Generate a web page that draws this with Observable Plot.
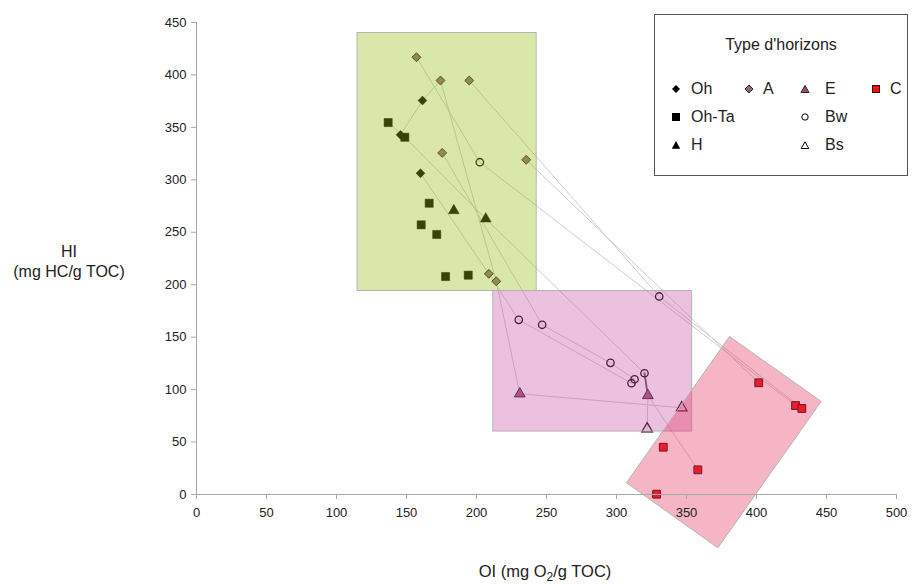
<!DOCTYPE html>
<html><head><meta charset="utf-8">
<script src="https://cdn.jsdelivr.net/npm/d3@7"></script>
<script src="https://cdn.jsdelivr.net/npm/@observablehq/plot@0.6"></script>
<style>
body{margin:0;background:#fff;font-family:"Liberation Sans",Arial,sans-serif;color:#222;}
#wrap{position:relative;width:913px;height:584px;overflow:hidden;}
#wrap svg.plot{position:absolute;left:0;top:0;}
.ylab{position:absolute;left:0;width:138px;text-align:center;font-size:16px;line-height:20px;top:242px;}
.xlab{position:absolute;left:345px;width:400px;text-align:center;font-size:16.5px;top:562px;}
.xlab sub{font-size:12px;vertical-align:-4px;line-height:0;}
#legend{position:absolute;left:654px;top:14px;width:252px;height:160px;border:1.5px solid #555;background:#fff;}
#legend .title{position:absolute;left:0;width:100%;top:21px;text-align:center;font-size:16px;}
#legend .item{position:absolute;font-size:16px;line-height:18px;white-space:nowrap;}
#legend svg{position:absolute;}
</style></head><body><div id="wrap"></div>
<script>
// ---- data (OI, HI) by horizon type ----
const Oh   = [[161.4,375.6],[160.0,306.3],[145.7,342.9]];
const OhTa = [[136.9,354.6],[148.8,340.6],[166.2,277.7],[160.5,257.1],[171.6,247.9],[177.9,207.8],[194.1,209.1]];
const H    = [[183.8,270.7],[206.6,262.8]];
const A    = [[157.1,416.9],[174.3,394.7],[194.8,394.7],[175.5,325.7],[235.5,319.1],[208.8,210.4],[214.1,203.3]];
const E    = [[230.9,96.0],[322.4,94.4]];
const Bw   = [[202.4,316.8],[330.5,188.8],[230.2,166.5],[246.9,161.8],[295.7,125.5],[312.9,109.9],[310.7,106.1],[320.0,115.6]];
const Bs   = [[346.6,82.7],[321.9,62.6]];
const C    = [[401.6,106.5],[427.9,84.8],[432.4,82.0],[333.4,45.1],[358.1,23.5],[328.6,0.3]];

// soil profiles linking horizons
const profiles = [
  [[157.1,416.9],[202.4,316.8],[427.9,84.8]],
  [[194.8,394.7],[330.5,188.8],[432.4,82.0]],
  [[235.5,319.1],[401.6,106.5]],
  [[174.3,394.7],[161.4,375.6],[145.7,342.9]],
  [[136.9,354.6],[148.8,340.6],[206.6,262.8],[320.0,115.6],[322.4,94.4],[321.9,62.6]],
  [[322.4,94.4],[358.1,23.5]],
  [[174.3,394.7],[214.1,203.3],[230.9,96.0],[346.6,82.7]],
  [[160.0,306.3],[208.8,210.4],[230.2,166.5],[310.7,106.1]],
  [[175.5,325.7],[246.9,161.8],[295.7,125.5],[312.9,109.9]]
];
// Bw -> E link drawn heavier in the original
const heavyLink = [[320.0,115.6],[322.4,94.4]];

// domains (OI min, OI max, HI min, HI max)
const organicZone  = [115, 243, 194, 440];
const mixedZone    = [212, 354, 60, 194];
const mineralZone  = [[380.7,150.6],[446.2,88.7],[372.4,-50.8],[307.1,11.2]];

const xTicks = [0,50,100,150,200,250,300,350,400,450,500];
const yTicks = [0,50,100,150,200,250,300,350,400,450];
const legendLabels = ["Oh","A","E","C","Oh-Ta","Bw","H","Bs"];
const legendTitle = "Type d'horizons";

// ---- chart ----
const px = d => d[0], py = d => d[1];
const lineRows = profiles.flatMap((p, i) => p.map(([x, y]) => ({x, y, id: i})));
const mineralClosed = [...mineralZone, mineralZone[0]];

const chart = Plot.plot({
  width: 913, height: 584,
  marginLeft: 196, marginRight: 17, marginTop: 22, marginBottom: 90,
  x: {domain: [0, 500]},
  y: {domain: [0, 450]},
  style: {fontFamily: "'Liberation Sans', Arial, sans-serif", fontSize: "13px", color: "#222", background: "transparent", overflow: "visible"},
  marks: [
    Plot.line(lineRows, {x: "x", y: "y", z: "id", stroke: "#cdcdcd", strokeWidth: 1}),
    Plot.line(heavyLink, {x: px, y: py, stroke: "#555", strokeWidth: 1.8}),
    Plot.dot(Oh,   {x: px, y: py, symbol: "diamond2", r: 4.0, fill: "#000", stroke: "#000", strokeWidth: 0.5}),
    Plot.dot(OhTa, {x: px, y: py, symbol: "square", r: 4.6, fill: "#000", stroke: "#000", strokeWidth: 0.5}),
    Plot.dot(H,    {x: px, y: py, symbol: "triangle", r: 4.0, fill: "#000", stroke: "#000", strokeWidth: 0.5}),
    Plot.dot(A,    {x: px, y: py, symbol: "diamond2", r: 4.0, fill: "#996677", stroke: "#222", strokeWidth: 1}),
    Plot.dot(E,    {x: px, y: py, symbol: "triangle", r: 4.0, fill: "#a0527a", stroke: "#222", strokeWidth: 1}),
    Plot.dot(Bw,   {x: px, y: py, symbol: "circle", r: 3.7, fill: "none", stroke: "#000", strokeWidth: 1.3}),
    Plot.dot(Bs,   {x: px, y: py, symbol: "triangle", r: 4.0, fill: "none", stroke: "#000", strokeWidth: 1.2}),
    Plot.dot(C,    {x: px, y: py, symbol: "square", r: 4.4, fill: "#ee1111", stroke: "#400", strokeWidth: 1}),
    Plot.rect([organicZone], {x1: d => d[0], x2: d => d[1], y1: d => d[2], y2: d => d[3], fill: "#96be14", fillOpacity: 0.36, stroke: "#b4b4b4", strokeWidth: 1}),
    Plot.rect([mixedZone], {x1: d => d[0], x2: d => d[1], y1: d => d[2], y2: d => d[3], fill: "#cb53a7", fillOpacity: 0.36, stroke: "#b4b4b4", strokeWidth: 1}),
    Plot.line(mineralClosed, {x: px, y: py, fill: "#e6325e", fillOpacity: 0.36, stroke: "#b4b4b4", strokeWidth: 1}),
    Plot.ruleY([0], {stroke: "#a8a8a8"}),
    Plot.ruleX([0], {stroke: "#a8a8a8"}),
    Plot.axisX(xTicks, {tickSize: 5, tickPadding: 8, label: null, stroke: "#a8a8a8", fill: "#222"}),
    Plot.axisY(yTicks, {tickSize: 5, tickPadding: 5, label: null, stroke: "#a8a8a8", fill: "#222"})
  ]
});
chart.classList.add("plot");
const wrap = document.getElementById("wrap");
wrap.appendChild(chart);

// axis titles
const yl = document.createElement("div");
yl.className = "ylab";
yl.innerHTML = "HI<br>(mg HC/g TOC)";
wrap.appendChild(yl);
const xl = document.createElement("div");
xl.className = "xlab";
xl.innerHTML = "OI (mg O<sub>2</sub>/g TOC)";
wrap.appendChild(xl);

// legend
const lg = document.createElement("div");
lg.id = "legend";
lg.innerHTML = `<div class="title">${legendTitle}</div>`;
const sym = {
  Oh:   '<path d="M5 1 L9 5 L5 9 L1 5Z" fill="#000"/>',
  A:    '<path d="M5 1 L9 5 L5 9 L1 5Z" fill="#996677" stroke="#222" stroke-width="1"/>',
  E:    '<path d="M5 1.5 L9 8.5 L1 8.5Z" fill="#a0527a" stroke="#222" stroke-width="1"/>',
  C:    '<rect x="1.5" y="1.5" width="7" height="7" fill="#ee1111" stroke="#400" stroke-width="1"/>',
  "Oh-Ta": '<rect x="1" y="1" width="8" height="8" fill="#000"/>',
  Bw:   '<circle cx="5" cy="5" r="3.2" fill="none" stroke="#000" stroke-width="1"/>',
  H:    '<path d="M5 1 L9.2 8.8 L0.8 8.8Z" fill="#000"/>',
  Bs:   '<path d="M5 1.8 L8.8 8.5 L1.2 8.5Z" fill="none" stroke="#000" stroke-width="1"/>'
};
// column / row placement inside legend box
const cols = [[21, 36], [94, 108], [150, 170], [221, 235]];
const place = [[0,0],[1,0],[2,0],[3,0],[0,1],[2,1],[0,2],[2,2]];
const rowY = [74, 102, 130];
legendLabels.forEach((lab, i) => {
  const [c, r] = place[i];
  const s = document.createElementNS("http://www.w3.org/2000/svg", "svg");
  s.setAttribute("width", 10); s.setAttribute("height", 10);
  s.style.left = (cols[c][0] - 5) + "px";
  s.style.top = (rowY[r] - 5) + "px";
  s.innerHTML = sym[lab];
  lg.appendChild(s);
  const t = document.createElement("div");
  t.className = "item";
  t.textContent = lab;
  t.style.left = cols[c][1] + "px";
  t.style.top = (rowY[r] - 9) + "px";
  lg.appendChild(t);
});
wrap.appendChild(lg);
</script>
</body></html>
